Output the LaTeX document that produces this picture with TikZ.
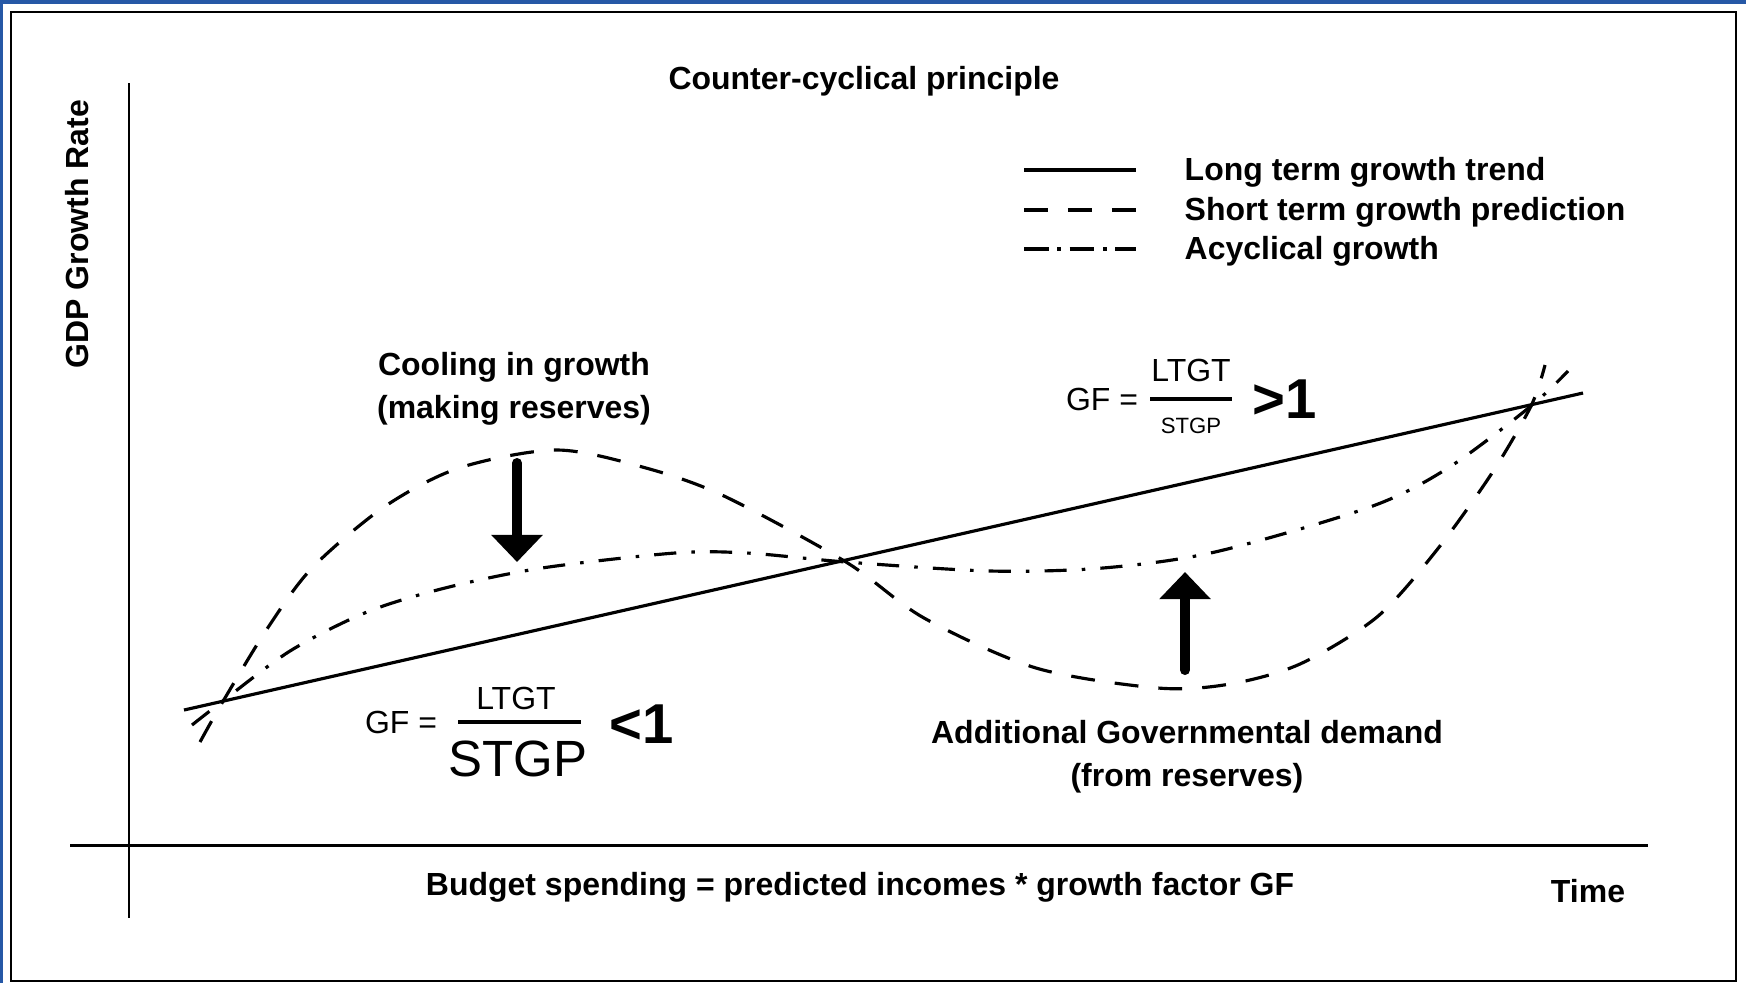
\documentclass[tikz,border=0pt]{standalone}
\usepackage{fontspec}
\setmainfont{Liberation Sans}
\usetikzlibrary{arrows.meta}
\definecolor{winblue}{RGB}{38,88,166}
\tikzset{
  lbl/.style={font=\fontsize{9.1}{12.2}\selectfont\bfseries, inner sep=0pt, align=center},
  frm/.style={font=\fontsize{9.1}{11}\selectfont, inner sep=0pt},
  trend/.style={line width=0.9pt},
  shortpred/.style={line width=0.9pt, dash pattern=on 6.8pt off 5.7pt},
  acycl/.style={line width=0.9pt, dash pattern=on 6.3pt off 4.3pt on 1pt off 4.3pt},
  acycleg/.style={line width=0.9pt, dash pattern=on 7pt off 2.5pt on 1pt off 2.5pt},
  bigarrow/.style={line width=2.85pt, line cap=round, -{Triangle[length=7.7pt,width=14.2pt]}}
}
\begin{document}
\begin{tikzpicture}[x=0.1mm,y=-0.1mm]
\useasboundingbox (0,0) rectangle (1746,983);
% window frame
\fill[winblue] (0,0) rectangle (1746,3.5);
\fill[winblue] (0,0) rectangle (3,983);
\draw[line width=0.8pt] (11,12) rectangle (1736,981);

% axes
\begin{scope}[line width=0.85pt]
\coordinate (ytop) at (129,83);
\coordinate (ybot) at (129,918);
\coordinate (xleft) at (70,845);
\coordinate (xright) at (1648,845);
\draw (ytop) -- (ybot);
\draw (xleft) -- (xright);
\end{scope}

% texts
\node[lbl] (title) at (864,81) {Counter-cyclical principle};
\node[lbl, rotate=90] (ylab) at (77,234) {GDP Growth Rate};
\node[lbl] (budget) at (860,887) {Budget spending = predicted incomes * growth factor GF};
\node[lbl] (time) at (1588,891) {Time};
\node[lbl] (cooling) at (514,389) {Cooling in growth\\(making reserves)};
\node[lbl] (demand) at (1187,757) {Additional Governmental demand\\(from reserves)};

% legend
\begin{scope}
\coordinate (l1a) at (1024,170); \coordinate (l1b) at (1136,170);
\coordinate (l2a) at (1024,210); \coordinate (l2b) at (1136,210);
\coordinate (l3a) at (1024,249); \coordinate (l3b) at (1136,249);
\draw[trend] (l1a) -- (l1b);
\draw[shortpred] (l2a) -- (l2b);
\draw[acycleg] (l3a) -- (l3b);
\node[lbl, anchor=west] (leg1) at (1184,172) {Long term growth trend};
\node[lbl, anchor=west] (leg2) at (1184,212) {Short term growth prediction};
\node[lbl, anchor=west] (leg3) at (1184,251) {Acyclical growth};
\end{scope}

% curves
\coordinate (tstart) at (184,710);
\coordinate (tend) at (1583,393);
\draw[trend] (tstart) -- (tend);
\draw[shortpred] plot[smooth] coordinates {(200,742) (222,703) (267,629)
  (312,568) (384,507) (459,468) (557,450) (646,468) (724,496) (846,562)
  (924,618) (1036,668) (1158,688) (1230,684) (1300,664) (1377,617)
  (1436,551) (1492,473) (1531,406) (1545,365)};
\draw[acycl] plot[smooth] coordinates {(192,725) (219,704) (290,651)
  (367,612) (445,588) (542,568) (675,553) (747,553) (846,562) (990,571)
  (1103,568) (1215,552) (1370,507) (1448,468) (1531,406) (1568,371)};

% arrows
\coordinate (downtop) at (517,463);
\coordinate (downtip) at (517,562);
\coordinate (upbot) at (1185,670);
\coordinate (uptip) at (1185,572);
\draw[bigarrow] (downtop) -- (downtip);
\draw[bigarrow] (upbot) -- (uptip);

% growth factor, lower
\node[frm] (gfa) at (401,722) {GF =};
\node[frm] (ltgta) at (516,698) {LTGT};
\node[frm, font=\fontsize{14.5}{16}\selectfont] (stgpa) at (518,759) {STGP};
\node[lbl, font=\fontsize{16}{18}\selectfont\bfseries] (lessone) at (642,724) {<1};
\coordinate (bara1) at (458,722); \coordinate (bara2) at (581,722);
\draw[line width=1.2pt] (bara1) -- (bara2);

% growth factor, upper
\node[frm] (gfb) at (1102,399) {GF =};
\node[frm] (ltgtb) at (1191,370) {LTGT};
\node[frm, font=\fontsize{6.3}{7}\selectfont] (stgpb) at (1191,426) {STGP};
\node[lbl, font=\fontsize{16}{18}\selectfont\bfseries] (moreone) at (1285,399) {>1};
\coordinate (barb1) at (1150,399); \coordinate (barb2) at (1232,399);
\draw[line width=1.2pt] (barb1) -- (barb2);
\end{tikzpicture}
\end{document}
